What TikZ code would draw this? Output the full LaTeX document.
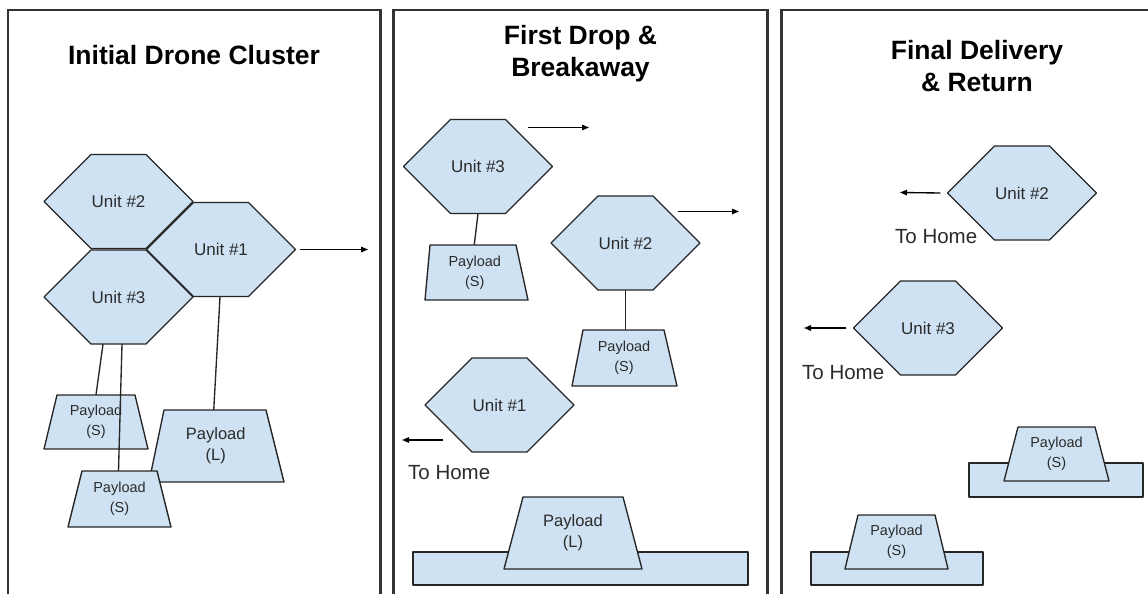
\documentclass[tikz,border=0pt]{standalone}
\usepackage{fontspec}
\setmainfont{Liberation Sans}
\usetikzlibrary{arrows.meta}

\definecolor{unitblue}{HTML}{CFE2F3}
\definecolor{edgegray}{HTML}{262626}
\definecolor{framegray}{HTML}{333333}
\definecolor{labelgray}{HTML}{2B2B2B}

\tikzset{
  frame/.style={draw=framegray, line width=2.1pt},
  shapeface/.style={fill=unitblue, draw=edgegray, line width=1.35pt, line join=round},
  unitlabel/.style={inner sep=0pt, minimum width=149pt, minimum height=94pt,
    text=labelgray, font=\fontsize{17}{20}\selectfont},
  cargolabel/.style={inner sep=0pt, align=center, text=labelgray},
  smallcargo/.style={font=\fontsize{14.5}{20}\selectfont},
  bigcargo/.style={font=\fontsize{16.5}{21}\selectfont},
  titletext/.style={inner sep=0pt, align=center, text=black,
    font=\fontsize{26.5}{32}\selectfont\bfseries},
  hometext/.style={inner sep=0pt, anchor=west, text=labelgray,
    font=\fontsize{20.5}{24}\selectfont},
  tether/.style={draw=black!85, line width=1.35pt},
  motion/.style={draw=black, line width=1.35pt, -{Triangle[length=7pt,width=5.5pt]}},
}

% hexagonal drone body: name, centre x, centre y, label
\newcommand{\droneunit}[4]{%
  \path[shapeface, shift={(#2,#3)}] (-74.5,0) -- (-27.5,-47) -- (27.5,-47)
    -- (74.5,0) -- (27.5,47) -- (-27.5,47) -- cycle;
  \node[unitlabel] (#1) at (#2,#3) {#4};}

% trapezoid payload: name, top-left x, top-right x, bottom-left x,
% bottom-right x, top y, bottom y, size style, label
\newcommand{\cargo}[9]{%
  \path[shapeface] (#2,#6) -- (#3,#6) -- (#5,#7) -- (#4,#7) -- cycle;
  \node[cargolabel, #8, minimum width={(#5-#4)*1pt}, minimum height={(#7-#6)*1pt}]
    (#1) at ({(#2+#3+#4+#5)/4},{(#6+#7)/2}) {#9};}

\begin{document}
\begin{tikzpicture}[x=1pt, y=-1pt]
\useasboundingbox[fill=white] (0,0) rectangle (1148,594);

% ---------- panel frames ----------
\draw[frame] (8,600) -- (8,10) -- (380.5,10) -- (380.5,600);
\draw[frame] (393.5,600) -- (393.5,10) -- (767.5,10) -- (767.5,600);
\draw[frame] (781.5,600) -- (781.5,10) -- (1160,10);

% ---------- titles (base = last line's baseline) ----------
\node[titletext, anchor=base] (t1) at (194,64) {Initial Drone Cluster};
\node[titletext, anchor=base] (t2) at (580.5,76) {First Drop \&\\Breakaway};
\node[titletext, anchor=base] (t3) at (977,91) {Final Delivery\\\& Return};

% ---------- panel 1: initial cluster ----------
\droneunit{a2}{118.5}{201.5}{Unit \#2}
\droneunit{a1}{221}{249.5}{Unit \#1}
\droneunit{a3}{118.5}{297}{Unit \#3}

\cargo{as1}{57}{135}{44}{148}{395}{449}{smallcargo}{Payload\\(S)}
\cargo{al}{164}{266}{149}{284}{410}{482}{bigcargo}{Payload\\(L)}
\cargo{as2}{82}{157}{68}{171}{471}{527}{smallcargo}{Payload\\(S)}

\draw[tether] ([xshift=-15.5pt]a3.south) -- (as1.north);
\draw[tether] ([xshift=3.5pt]a3.south) -- ([xshift=-1pt]as2.north);
\draw[tether] ([xshift=-1pt]a1.south) -- ([xshift=-2pt]al.north);

\coordinate (a1go) at (368,249.5);
\draw[motion] ([xshift=4pt]a1.east) -- (a1go);

% ---------- panel 2: first drop ----------
\droneunit{b3}{478}{166.5}{Unit \#3}
\droneunit{b2}{625.5}{243}{Unit \#2}
\droneunit{b1}{499.5}{405}{Unit \#1}

\cargo{bs1}{430}{516}{425}{528}{245}{300}{smallcargo}{Payload\\(S)}
\cargo{bs2}{583}{664}{572}{677}{330}{386}{smallcargo}{Payload\\(S)}

\draw[tether] (b3.south) -- ([xshift=-0.5pt]bs1.north);
\draw[tether] (b2.south) -- ([xshift=1.5pt]bs2.north);

\coordinate (b3from) at (528,127.5);
\coordinate (b3to) at (589,127.5);
\draw[motion] (b3from) -- (b3to);
\coordinate (b2from) at (678,211.5);
\coordinate (b2to) at (739,211.5);
\draw[motion] (b2from) -- (b2to);
\coordinate (b1from) at (443,440);
\coordinate (b1to) at (402,440);
\draw[motion] (b1from) -- (b1to);
\node[hometext] (bhome) at (408,473) {To Home};

\path[shapeface] (413,552) rectangle (748,585);
\cargo{bl}{523}{623}{504}{642}{497}{569}{bigcargo}{Payload\\(L)}

% ---------- panel 3: final delivery ----------
\droneunit{c2}{1022}{193}{Unit \#2}
\droneunit{c3}{928}{328}{Unit \#3}

\coordinate (c2to) at (900,192.5);
\draw[motion] ([xshift=-7pt]c2.west) -- (c2to);
\node[hometext] (chome2) at (895,237) {To Home};
\coordinate (c3to) at (804,328);
\draw[motion] ([xshift=-7pt]c3.west) -- (c3to);
\node[hometext] (chome3) at (802,373) {To Home};

\path[shapeface] (969,463) rectangle (1143,497);
\cargo{cs1}{1018}{1095}{1004}{1109}{427}{481}{smallcargo}{Payload\\(S)}
\path[shapeface] (811,552) rectangle (983,585);
\cargo{cs2}{858}{935}{845}{948}{515}{569}{smallcargo}{Payload\\(S)}
\end{tikzpicture}
\end{document}
